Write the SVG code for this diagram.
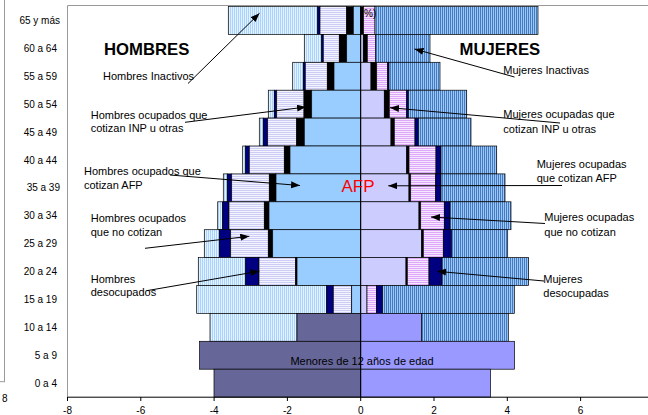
<svg xmlns="http://www.w3.org/2000/svg" width="648" height="415" viewBox="0 0 648 415">
<defs>
<pattern id="pmi" patternUnits="userSpaceOnUse" width="2" height="10"><rect width="2" height="10" fill="#E4F2FF"/><rect width="1" height="10" fill="#A9D3FF"/></pattern>
<pattern id="pwi" patternUnits="userSpaceOnUse" width="2" height="10"><rect width="2" height="10" fill="#9CC8F5"/><rect width="0.9" height="10" fill="#3C70BE"/></pattern>
<pattern id="pmn" patternUnits="userSpaceOnUse" width="10" height="2"><rect width="10" height="2" fill="#F4F4FF"/><rect width="10" height="1" fill="#CCCCF5"/></pattern>
<pattern id="pwn" patternUnits="userSpaceOnUse" width="10" height="2"><rect width="10" height="2" fill="#FBEFFF"/><rect width="10" height="1.1" fill="#DDA8FA"/></pattern>
<marker id="ah" markerUnits="userSpaceOnUse" markerWidth="10" markerHeight="8" refX="9" refY="3.5" orient="auto"><path d="M0,0 L9,3.5 L0,7 z" fill="#000"/></marker>
</defs>
<style>
#bars rect{stroke:#000;stroke-width:0.7}
.mi{fill:url(#pmi)}
.wi{fill:url(#pwi)}
.mn{fill:url(#pmn)}
.wn{fill:url(#pwn)}
.nv{fill:#000080}
.bk{fill:#000}
.ma{fill:#99CCFF}
.wa{fill:#CCCCFF}
.sl{fill:#666699}
.wu{fill:#9999FF}
text{font-family:"Liberation Sans",Arial,sans-serif;fill:#000}
.age{font-size:10px;text-anchor:end}
.lab{font-size:11px}
.ax{font-size:10px;text-anchor:middle}
.big{font-size:16.7px;font-weight:bold}
.con line{stroke:#000;stroke-width:1;marker-end:url(#ah)}
</style>
<rect width="648" height="415" fill="#fff"/>
<g id="frame" fill="none" stroke="#999">
<line x1="4.5" y1="0" x2="4.5" y2="381.7"/>
<line x1="0" y1="381.7" x2="5" y2="381.7"/>
<line x1="67.5" y1="5.5" x2="67.5" y2="397"/>
<line x1="67.5" y1="5.5" x2="648" y2="5.5"/>
</g>
<text x="2" y="402" style="font-size:10px">8</text>
<g id="ages">
<text class="age" x="60" y="24">65 y más</text>
<text class="age" x="57" y="51.9">60 a 64</text>
<text class="age" x="57" y="79.8">55 a 59</text>
<text class="age" x="57" y="107.7">50 a 54</text>
<text class="age" x="57" y="135.6">45 a 49</text>
<text class="age" x="57" y="163.5">40 a 44</text>
<text class="age" x="60" y="191.4">35 a 39</text>
<text class="age" x="57" y="219.3">30 a 34</text>
<text class="age" x="57" y="247.2">25 a 29</text>
<text class="age" x="57" y="275.1">20 a 24</text>
<text class="age" x="57" y="303">15 a 19</text>
<text class="age" x="57" y="330.9">10 a 14</text>
<text class="age" x="57" y="358.8">5 a 9</text>
<text class="age" x="57" y="386.7">0 a 4</text>
</g>
<g id="bars">
<g id="row-65">
<rect class="mi" x="228.3" y="6.5" width="89.4" height="27.9"/><rect class="nv" x="317.7" y="6.5" width="2.3" height="27.9"/><rect class="mn" x="320" y="6.5" width="26.7" height="27.9"/><rect class="bk" x="346.7" y="6.5" width="6.6" height="27.9"/><rect class="ma" x="353.3" y="6.5" width="7.4" height="27.9"/>
<rect class="bk" x="360.7" y="6.5" width="2.8" height="27.9"/><rect class="wn" x="363.5" y="6.5" width="11.5" height="27.9"/><rect class="wi" x="375" y="6.5" width="163" height="27.9"/>
</g>
<g id="row-60">
<rect class="mi" x="304.3" y="34.4" width="17.4" height="27.9"/><rect class="nv" x="321.7" y="34.4" width="1.6" height="27.9"/><rect class="mn" x="323.3" y="34.4" width="16" height="27.9"/><rect class="bk" x="339.3" y="34.4" width="7.4" height="27.9"/><rect class="ma" x="346.7" y="34.4" width="14" height="27.9"/>
<rect class="wa" x="360.7" y="34.4" width="2.6" height="27.9"/><rect class="bk" x="363.3" y="34.4" width="4" height="27.9"/><rect class="wn" x="367.3" y="34.4" width="8.4" height="27.9"/><rect class="wi" x="375.7" y="34.4" width="54.3" height="27.9"/>
</g>
<g id="row-55">
<rect class="mi" x="292.7" y="62.3" width="10.6" height="27.9"/><rect class="nv" x="303.3" y="62.3" width="2" height="27.9"/><rect class="mn" x="305.3" y="62.3" width="22" height="27.9"/><rect class="bk" x="327.3" y="62.3" width="6.7" height="27.9"/><rect class="ma" x="334" y="62.3" width="26.7" height="27.9"/>
<rect class="wa" x="360.7" y="62.3" width="10.3" height="27.9"/><rect class="bk" x="371" y="62.3" width="5.7" height="27.9"/><rect class="wn" x="376.7" y="62.3" width="11" height="27.9"/><rect class="nv" x="387.7" y="62.3" width="1.3" height="27.9"/><rect class="wi" x="389" y="62.3" width="51" height="27.9"/>
</g>
<g id="row-50">
<rect class="mi" x="268.3" y="90.2" width="6" height="27.9"/><rect class="nv" x="274.3" y="90.2" width="2.4" height="27.9"/><rect class="mn" x="276.7" y="90.2" width="27.3" height="27.9"/><rect class="bk" x="304" y="90.2" width="7.7" height="27.9"/><rect class="ma" x="311.7" y="90.2" width="49" height="27.9"/>
<rect class="wa" x="360.7" y="90.2" width="23.6" height="27.9"/><rect class="bk" x="384.3" y="90.2" width="5" height="27.9"/><rect class="wn" x="389.3" y="90.2" width="17.4" height="27.9"/><rect class="nv" x="406.7" y="90.2" width="1.6" height="27.9"/><rect class="wi" x="408.3" y="90.2" width="58.4" height="27.9"/>
</g>
<g id="row-45">
<rect class="mi" x="259.3" y="118.1" width="4" height="27.9"/><rect class="nv" x="263.3" y="118.1" width="4.4" height="27.9"/><rect class="mn" x="267.7" y="118.1" width="29" height="27.9"/><rect class="bk" x="296.7" y="118.1" width="7.6" height="27.9"/><rect class="ma" x="304.3" y="118.1" width="56.4" height="27.9"/>
<rect class="wa" x="360.7" y="118.1" width="30.3" height="27.9"/><rect class="bk" x="391" y="118.1" width="3.3" height="27.9"/><rect class="wn" x="394.3" y="118.1" width="20.7" height="27.9"/><rect class="nv" x="415" y="118.1" width="3.3" height="27.9"/><rect class="wi" x="418.3" y="118.1" width="52.7" height="27.9"/>
</g>
<g id="row-40">
<rect class="mi" x="242.7" y="146" width="3" height="27.9"/><rect class="nv" x="245.7" y="146" width="3.6" height="27.9"/><rect class="mn" x="249.3" y="146" width="35" height="27.9"/><rect class="bk" x="284.3" y="146" width="5.7" height="27.9"/><rect class="ma" x="290" y="146" width="70.7" height="27.9"/>
<rect class="wa" x="360.7" y="146" width="46" height="27.9"/><rect class="bk" x="406.7" y="146" width="2.3" height="27.9"/><rect class="wn" x="409" y="146" width="27" height="27.9"/><rect class="nv" x="436" y="146" width="5" height="27.9"/><rect class="wi" x="441" y="146" width="55.7" height="27.9"/>
</g>
<g id="row-35">
<rect class="mi" x="223.3" y="173.9" width="4" height="27.9"/><rect class="nv" x="227.3" y="173.9" width="4.4" height="27.9"/><rect class="mn" x="231.7" y="173.9" width="37.6" height="27.9"/><rect class="bk" x="269.3" y="173.9" width="6.7" height="27.9"/><rect class="ma" x="276" y="173.9" width="84.7" height="27.9"/>
<rect class="wa" x="360.7" y="173.9" width="48.3" height="27.9"/><rect class="bk" x="409" y="173.9" width="1.7" height="27.9"/><rect class="wn" x="410.7" y="173.9" width="25" height="27.9"/><rect class="nv" x="435.7" y="173.9" width="5.3" height="27.9"/><rect class="wi" x="441" y="173.9" width="64" height="27.9"/>
</g>
<g id="row-30">
<rect class="mi" x="217.7" y="201.8" width="5" height="27.9"/><rect class="nv" x="222.7" y="201.8" width="6.3" height="27.9"/><rect class="mn" x="229" y="201.8" width="35.3" height="27.9"/><rect class="bk" x="264.3" y="201.8" width="4.7" height="27.9"/><rect class="ma" x="269" y="201.8" width="91.7" height="27.9"/>
<rect class="wa" x="360.7" y="201.8" width="58.3" height="27.9"/><rect class="bk" x="419" y="201.8" width="1.7" height="27.9"/><rect class="wn" x="420.7" y="201.8" width="23.6" height="27.9"/><rect class="nv" x="444.3" y="201.8" width="5.7" height="27.9"/><rect class="wi" x="450" y="201.8" width="61" height="27.9"/>
</g>
<g id="row-25">
<rect class="mi" x="204.3" y="229.7" width="15" height="27.9"/><rect class="nv" x="219.3" y="229.7" width="11.4" height="27.9"/><rect class="mn" x="230.7" y="229.7" width="37.6" height="27.9"/><rect class="bk" x="268.3" y="229.7" width="4.4" height="27.9"/><rect class="ma" x="272.7" y="229.7" width="88" height="27.9"/>
<rect class="wa" x="360.7" y="229.7" width="61" height="27.9"/><rect class="bk" x="421.7" y="229.7" width="1.6" height="27.9"/><rect class="wn" x="423.3" y="229.7" width="20" height="27.9"/><rect class="nv" x="443.3" y="229.7" width="8.4" height="27.9"/><rect class="wi" x="451.7" y="229.7" width="56" height="27.9"/>
</g>
<g id="row-20">
<rect class="mi" x="198.3" y="257.6" width="47.4" height="27.9"/><rect class="nv" x="245.7" y="257.6" width="13.3" height="27.9"/><rect class="mn" x="259" y="257.6" width="36.7" height="27.9"/><rect class="bk" x="295.7" y="257.6" width="1.3" height="27.9"/><rect class="ma" x="297" y="257.6" width="63.7" height="27.9"/>
<rect class="wa" x="360.7" y="257.6" width="45.3" height="27.9"/><rect class="bk" x="406" y="257.6" width="1.3" height="27.9"/><rect class="wn" x="407.3" y="257.6" width="21.7" height="27.9"/><rect class="nv" x="429" y="257.6" width="13" height="27.9"/><rect class="wi" x="442" y="257.6" width="86.5" height="27.9"/>
</g>
<g id="row-15">
<rect class="mi" x="196.7" y="285.5" width="130" height="27.9"/><rect class="nv" x="326.7" y="285.5" width="6.6" height="27.9"/><rect class="mn" x="333.3" y="285.5" width="18.4" height="27.9"/><rect class="ma" x="351.7" y="285.5" width="9" height="27.9"/>
<rect class="wa" x="360.7" y="285.5" width="6.3" height="27.9"/><rect class="wn" x="367" y="285.5" width="9.5" height="27.9"/><rect class="nv" x="376.5" y="285.5" width="6" height="27.9"/><rect class="wi" x="382.5" y="285.5" width="131.8" height="27.9"/>
</g>
<g id="row-10">
<rect class="mi" x="210" y="313.4" width="87" height="27.9"/><rect class="sl" x="297" y="313.4" width="63.7" height="27.9"/>
<rect class="wu" x="360.7" y="313.4" width="61" height="27.9"/><rect class="wi" x="421.7" y="313.4" width="86.6" height="27.9"/>
</g>
<g id="row-5">
<rect class="sl" x="199.6" y="341.3" width="161.1" height="27.9"/><rect class="wu" x="360.7" y="341.3" width="153.8" height="27.9"/>
</g>
<g id="row-0">
<rect class="sl" x="214" y="369.2" width="146.7" height="27.9"/><rect class="wu" x="360.7" y="369.2" width="129.8" height="27.9"/>
</g>
<line x1="360.7" y1="6.5" x2="360.7" y2="397" stroke="#000" stroke-width="1"/>
</g>
<g id="axis" stroke="#000" stroke-width="1">
<line x1="67.5" y1="397.2" x2="648" y2="397.2"/>
<line x1="67.5" y1="397" x2="67.5" y2="401"/>
<line x1="140.8" y1="397" x2="140.8" y2="401"/>
<line x1="214.1" y1="397" x2="214.1" y2="401"/>
<line x1="287.4" y1="397" x2="287.4" y2="401"/>
<line x1="360.7" y1="397" x2="360.7" y2="401"/>
<line x1="434" y1="397" x2="434" y2="401"/>
<line x1="507.3" y1="397" x2="507.3" y2="401"/>
<line x1="580.6" y1="397" x2="580.6" y2="401"/>
</g>
<g id="axis-labels">
<text class="ax" x="67.5" y="414">-8</text>
<text class="ax" x="140.8" y="414">-6</text>
<text class="ax" x="214.1" y="414">-4</text>
<text class="ax" x="287.4" y="414">-2</text>
<text class="ax" x="360.7" y="414">0</text>
<text class="ax" x="434" y="414">2</text>
<text class="ax" x="507.3" y="414">4</text>
<text class="ax" x="580.6" y="414">6</text>
</g>
<text x="364" y="17" style="font-size:10px">%)</text>
<g id="menores"><text x="362" y="365" style="font-size:11px;text-anchor:middle">Menores de 12 años de edad</text></g>
<g id="afp"><text x="341.5" y="192" style="font-size:17px;fill:#FF0000">AFP</text></g>
<g id="hombres"><text class="big" x="104" y="55">HOMBRES</text></g>
<g id="mujeres"><text class="big" x="459.5" y="55">MUJERES</text></g>
<g id="lbl-h-inact"><text class="lab" x="103" y="80">Hombres Inactivos</text></g>
<g id="lbl-h-inp"><text class="lab" x="90.7" y="118.5">Hombres ocupados que</text><text class="lab" x="90.7" y="132">cotizan INP u otras</text></g>
<g id="lbl-h-afp"><text class="lab" x="84" y="175">Hombres ocupados que</text><text class="lab" x="84" y="188.5">cotizan AFP</text></g>
<g id="lbl-h-nocot"><text class="lab" x="90.7" y="222">Hombres ocupados</text><text class="lab" x="90.7" y="235.5">que no cotizan</text></g>
<g id="lbl-h-desoc"><text class="lab" x="90.7" y="282.5">Hombres</text><text class="lab" x="90.7" y="296">desocupados</text></g>
<g id="lbl-m-inact"><text class="lab" x="503.3" y="74">Mujeres Inactivas</text></g>
<g id="lbl-m-inp"><text class="lab" x="503.3" y="118">Mujeres ocupadas que</text><text class="lab" x="503.3" y="132.5">cotizan INP u otras</text></g>
<g id="lbl-m-afp"><text class="lab" x="536.7" y="167.5">Mujeres ocupadas</text><text class="lab" x="536.7" y="182">que cotizan AFP</text></g>
<g id="lbl-m-nocot"><text class="lab" x="544.3" y="221">Mujeres ocupadas</text><text class="lab" x="544.3" y="235.5">que no cotizan</text></g>
<g id="lbl-m-desoc"><text class="lab" x="543.3" y="283">Mujeres</text><text class="lab" x="543.3" y="296.5">desocupadas</text></g>
<g id="connectors" class="con">
<line x1="188" y1="83.5" x2="259.5" y2="13.3"/>
<line x1="514.5" y1="77" x2="414.5" y2="49"/>
<line x1="185" y1="122.3" x2="306" y2="107"/>
<line x1="170" y1="175" x2="300" y2="185.5"/>
<line x1="145" y1="248.3" x2="249.3" y2="236.3"/>
<line x1="146.7" y1="290.7" x2="259.3" y2="271.2"/>
<line x1="560" y1="123" x2="390" y2="107.7"/>
<line x1="562" y1="185.5" x2="388.3" y2="185.8"/>
<line x1="545" y1="223.5" x2="431" y2="217"/>
<line x1="544" y1="281" x2="437" y2="271.3"/>
</g>
</svg>
